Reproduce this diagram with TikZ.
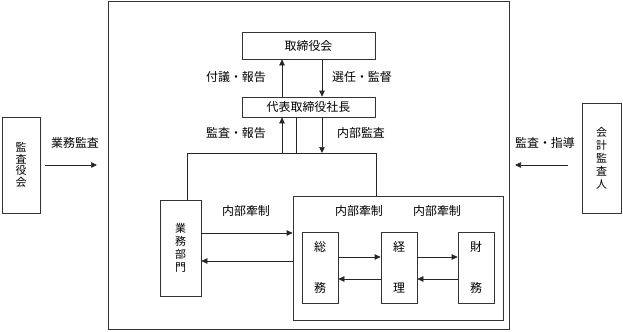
\documentclass[tikz,border=0pt]{standalone}
\usepackage{fontspec}
\setmainfont{Noto Sans CJK JP}
\usetikzlibrary{arrows.meta}
\tikzset{
  box/.style={draw=black!80, line width=0.7bp, inner sep=0pt, anchor=center},
  lbl/.style={inner sep=0pt, font=\fontsize{12}{14}\selectfont},
  arr/.style={draw=black!85, line width=0.7bp, -{Triangle[length=6bp,width=5.5bp]}},
  ln/.style={draw=black!85, line width=0.7bp},
}
\begin{document}
\begin{tikzpicture}[x=1bp,y=-1bp]
\useasboundingbox (0,0) rectangle (623,331);
% outer frame
\node[box, minimum width=401bp, minimum height=328bp] (outer) at (308.5,165) {};
% side boxes
\node[box, minimum width=38bp, minimum height=96bp, align=center, font=\fontsize{11}{11.5}\selectfont] (kansa) at (21,165) {監\\査\\役\\会};
\node[box, minimum width=39bp, minimum height=110bp, align=center, font=\fontsize{11}{13}\selectfont] (kaikei) at (601.5,158) {会\\計\\監\\査\\人};
% top boxes
\node[box, minimum width=133bp, minimum height=27bp, font=\fontsize{12}{14}\selectfont] (tori) at (308.5,45.5) {取締役会};
\node[box, minimum width=133bp, minimum height=20bp, font=\fontsize{12}{14}\selectfont] (dai) at (308.5,107) {代表取締役社長};
% lower boxes
\node[box, minimum width=41bp, minimum height=96bp, align=center, font=\fontsize{11}{13}\selectfont] (gyomu) at (180.5,248) {業\\務\\部\\門};
\node[box, minimum width=210bp, minimum height=124bp] (group) at (398,258) {};
\node[box, minimum width=36bp, minimum height=71bp, align=center, font=\fontsize{12}{41}\selectfont] (somu) at (320,267.5) {総\\務};
\node[box, minimum width=36bp, minimum height=71bp, align=center, font=\fontsize{12}{41}\selectfont] (keiri) at (399,267.5) {経\\理};
\node[box, minimum width=36bp, minimum height=71bp, align=center, font=\fontsize{12}{41}\selectfont] (zaimu) at (476,267.5) {財\\務};
% helper coordinates
\coordinate (xa) at (282,0);
\coordinate (xb) at (322,0);
\coordinate (xc) at (296,0);
\coordinate (busL) at (187,153);
\coordinate (busR) at (376,153);
\coordinate (lA) at (45,165);
\coordinate (lB) at (97,165);
\coordinate (rA) at (568,165);
\coordinate (rB) at (515,165);
\coordinate (yu) at (0,233);
\coordinate (yd) at (0,261);
\coordinate (iu) at (0,257);
\coordinate (id) at (0,279);
% side arrows
\draw[arr] (lA) -- (lB);
\draw[arr] (rA) -- (rB);
% board <-> president
\draw[arr] (dai.north -| xa) -- (tori.south -| xa);
\draw[arr] (tori.south -| xb) -- (dai.north -| xb);
% president <-> bus
\draw[ln] (busL) -- (busR);
\draw[arr] (busL -| xa) -- (dai.south -| xa);
\draw[ln] (dai.south -| xc) -- (busL -| xc);
\draw[arr] (dai.south -| xb) -- (busL -| xb);
\draw[ln] (busL) -- (busL |- gyomu.north);
\draw[ln] (busR) -- (busR |- group.north);
% gyomu <-> group
\draw[arr] (gyomu.east |- yu) -- (group.west |- yu);
\draw[arr] (group.west |- yd) -- (gyomu.east |- yd);
% inner arrows
\draw[arr] (somu.east |- iu) -- (keiri.west |- iu);
\draw[arr] (keiri.west |- id) -- (somu.east |- id);
\draw[arr] (keiri.east |- iu) -- (zaimu.west |- iu);
\draw[arr] (zaimu.west |- id) -- (keiri.east |- id);
% labels
\node[lbl] (t1) at (75,143) {業務監査};
\node[lbl] (t2) at (545,143) {監査・指導};
\node[lbl] (t3) at (236,77) {付議・報告};
\node[lbl] (t4) at (362,77) {選任・監督};
\node[lbl] (t5) at (236,133) {監査・報告};
\node[lbl] (t6) at (361,133) {内部監査};
\node[lbl] (t7) at (246,211) {内部牽制};
\node[lbl] (t8) at (359,211) {内部牽制};
\node[lbl] (t9) at (437,211) {内部牽制};
\end{tikzpicture}
\end{document}
